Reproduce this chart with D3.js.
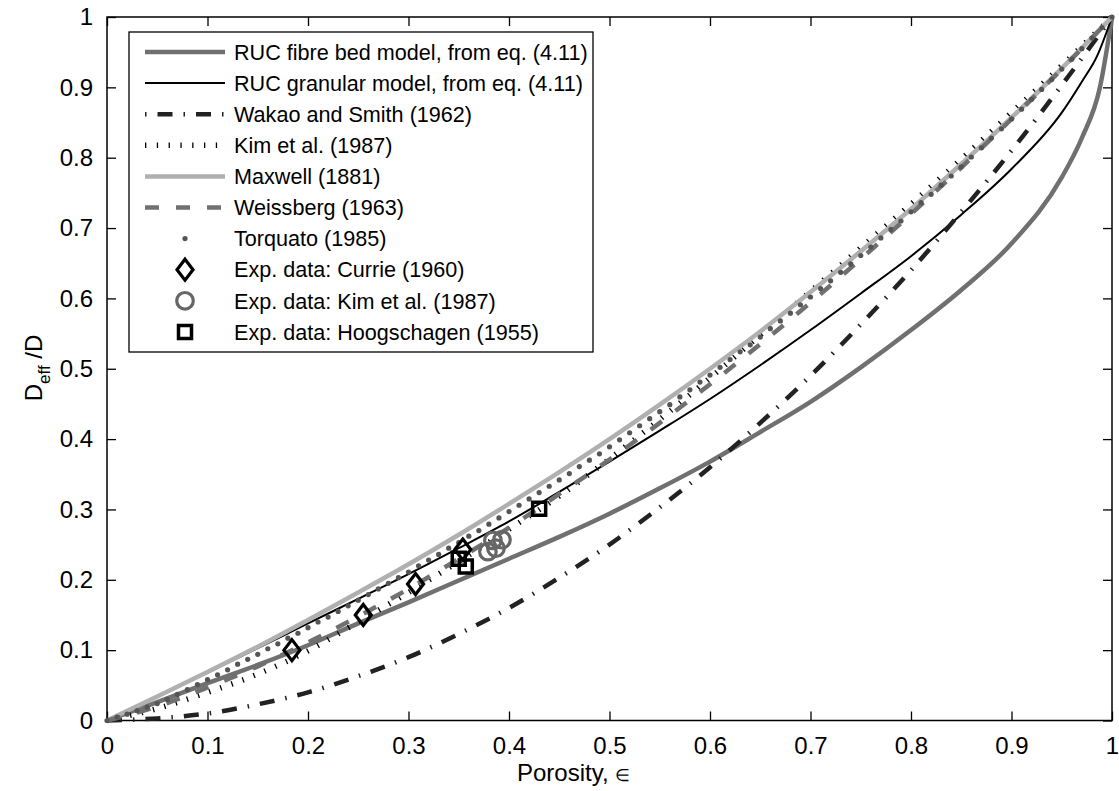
<!DOCTYPE html>
<html>
<head>
<meta charset="utf-8">
<script src="https://cdn.jsdelivr.net/npm/d3@7"></script>
<style>
  body { margin: 0; background: #fff; }
  svg { font-family: "Liberation Sans", Arial, Helvetica, sans-serif; }
</style>
</head>
<body>
<div id="chart"></div>
<script>
// porosity grid used by most model curves
const porosity = [0, 0.05, 0.1, 0.15, 0.2, 0.25, 0.3, 0.35, 0.4, 0.45, 0.5,
    0.55, 0.6, 0.65, 0.7, 0.75, 0.8, 0.85, 0.9, 0.95, 1];

const fibreX = [0, 0.05, 0.1, 0.15, 0.2, 0.25, 0.3, 0.35, 0.4, 0.45, 0.5,
    0.55, 0.6, 0.65, 0.7, 0.75, 0.8, 0.85, 0.9, 0.95, 0.97, 0.988, 1];
const fibreBed = [0, 0.026, 0.053, 0.079, 0.107, 0.138, 0.168, 0.199, 0.230, 0.261, 0.294,
    0.330, 0.368, 0.410, 0.453, 0.502, 0.555, 0.612, 0.678, 0.772, 0.828, 0.900, 1];

const granularX = [0, 0.05, 0.1, 0.15, 0.2, 0.25, 0.3, 0.35, 0.4, 0.45, 0.5,
    0.55, 0.6, 0.65, 0.7, 0.75, 0.8, 0.85, 0.9, 0.95, 0.97, 0.985, 1];
const granular = [0, 0.034, 0.068, 0.103, 0.138, 0.173, 0.208, 0.245, 0.283, 0.325, 0.368,
    0.412, 0.457, 0.505, 0.555, 0.607, 0.660, 0.719, 0.784, 0.864, 0.908, 0.944, 1];

const wakaoSmith = [0, 0.003, 0.010, 0.023, 0.040, 0.063, 0.090, 0.123, 0.160, 0.203, 0.250,
    0.303, 0.360, 0.423, 0.490, 0.563, 0.640, 0.723, 0.810, 0.903, 1];

const kimModel = [0, 0.017, 0.040, 0.066, 0.099, 0.140, 0.182, 0.226, 0.272, 0.319, 0.372,
    0.428, 0.487, 0.548, 0.610, 0.672, 0.734, 0.798, 0.864, 0.931, 1];

const maxwell = [0, 0.034, 0.069, 0.105, 0.143, 0.182, 0.222, 0.264, 0.308, 0.353, 0.400,
    0.449, 0.500, 0.553, 0.609, 0.667, 0.727, 0.791, 0.857, 0.927, 1];

const weissberg = [0, 0.020, 0.047, 0.077, 0.111, 0.148, 0.187, 0.230, 0.274, 0.322, 0.371,
    0.423, 0.478, 0.535, 0.594, 0.656, 0.720, 0.786, 0.855, 0.926, 1];

const torquatoX = [0, 0.01, 0.02, 0.03, 0.04, 0.05, 0.06, 0.07, 0.08, 0.09,
    0.1, 0.11, 0.12, 0.13, 0.14, 0.15, 0.16, 0.17, 0.18, 0.19,
    0.2, 0.21, 0.22, 0.23, 0.24, 0.25, 0.26, 0.27, 0.28, 0.29,
    0.3, 0.31, 0.32, 0.33, 0.34, 0.35, 0.36, 0.37, 0.38, 0.39,
    0.4, 0.41, 0.42, 0.43, 0.44, 0.45, 0.46, 0.47, 0.48, 0.49,
    0.5, 0.51, 0.52, 0.53, 0.54, 0.55, 0.56, 0.57, 0.58, 0.59,
    0.6, 0.61, 0.62, 0.63, 0.64, 0.65, 0.66, 0.67, 0.68, 0.69,
    0.7, 0.71, 0.72, 0.73, 0.74, 0.75, 0.76, 0.77, 0.78, 0.79,
    0.8, 0.81, 0.82, 0.83, 0.84, 0.85, 0.86, 0.87, 0.88, 0.89,
    0.9, 0.91, 0.92, 0.93, 0.94, 0.95, 0.96, 0.97, 0.98, 0.99, 1];
const torquato = [0, 0.005, 0.009, 0.014, 0.019, 0.024, 0.030, 0.037, 0.044, 0.051,
    0.058, 0.065, 0.072, 0.080, 0.087, 0.094, 0.102, 0.109, 0.117, 0.124,
    0.132, 0.140, 0.147, 0.155, 0.163, 0.171, 0.179, 0.187, 0.195, 0.203,
    0.211, 0.220, 0.228, 0.236, 0.245, 0.253, 0.262, 0.270, 0.279, 0.288,
    0.297, 0.306, 0.315, 0.324, 0.333, 0.342, 0.351, 0.361, 0.370, 0.379,
    0.389, 0.399, 0.409, 0.419, 0.429, 0.439, 0.449, 0.460, 0.470, 0.481,
    0.491, 0.502, 0.513, 0.524, 0.534, 0.545, 0.557, 0.568, 0.579, 0.591,
    0.602, 0.614, 0.625, 0.637, 0.649, 0.661, 0.673, 0.686, 0.698, 0.710,
    0.723, 0.736, 0.748, 0.761, 0.774, 0.787, 0.801, 0.814, 0.828, 0.841,
    0.855, 0.869, 0.883, 0.897, 0.911, 0.926, 0.940, 0.955, 0.970, 0.985, 1];

// experimental points [porosity, Deff/D]
const currie = [[0.184, 0.100], [0.255, 0.150], [0.307, 0.194], [0.354, 0.243]];
const kimExp = [[0.379, 0.240], [0.387, 0.245], [0.384, 0.256], [0.393, 0.257]];
const hoogschagen = [[0.350, 0.230], [0.357, 0.219], [0.430, 0.301]];

const tickValues = [0, 0.1, 0.2, 0.3, 0.4, 0.5, 0.6, 0.7, 0.8, 0.9, 1];

const legendLabels = [
    'RUC fibre bed model, from eq. (4.11)',
    'RUC granular model, from eq. (4.11)',
    'Wakao and Smith (1962)',
    'Kim et al. (1987)',
    'Maxwell (1881)',
    'Weissberg (1963)',
    'Torquato (1985)',
    'Exp. data: Currie (1960)',
    'Exp. data: Kim et al. (1987)',
    'Exp. data: Hoogschagen (1955)'
];

const svgWidth = 1119;
const svgHeight = 791;
const margin = { top: 17, right: 7, bottom: 70.5, left: 107 };
const width = svgWidth - margin.left - margin.right;
const height = svgHeight - margin.top - margin.bottom;

const svg = d3.select('#chart')
    .append('svg')
    .attr('width', svgWidth)
    .attr('height', svgHeight);

const bounds = svg.append('g')
    .attr('transform', `translate(${margin.left}, ${margin.top})`);

const xScale = d3.scaleLinear().domain([0, 1]).range([0, width]);
const yScale = d3.scaleLinear().domain([0, 1]).range([height, 0]);

const fmt = d => d3.format('~g')(d);

// axes, MATLAB style: inward ticks on all four sides
const styleAxis = g => {
    g.select('.domain').remove();
    g.selectAll('.tick line').attr('stroke', '#000').attr('stroke-width', 1.3);
    g.selectAll('.tick text').attr('fill', '#000').style('font-size', '24px');
};

bounds.append('g')
    .attr('transform', `translate(0, ${height})`)
    .call(d3.axisBottom(xScale).tickValues(tickValues).tickFormat(fmt)
        .tickSizeInner(-9).tickSizeOuter(0).tickPadding(16))
    .call(styleAxis);

bounds.append('g')
    .call(d3.axisTop(xScale).tickValues(tickValues).tickFormat('')
        .tickSizeInner(-9).tickSizeOuter(0))
    .call(styleAxis);

bounds.append('g')
    .call(d3.axisLeft(yScale).tickValues(tickValues).tickFormat(fmt)
        .tickSizeInner(-9).tickSizeOuter(0).tickPadding(14))
    .call(styleAxis);

bounds.append('g')
    .attr('transform', `translate(${width}, 0)`)
    .call(d3.axisRight(yScale).tickValues(tickValues).tickFormat('')
        .tickSizeInner(-9).tickSizeOuter(0))
    .call(styleAxis);

bounds.append('rect')
    .attr('width', width)
    .attr('height', height)
    .attr('fill', 'none')
    .attr('stroke', '#000')
    .attr('stroke-width', 1.5);

// axis titles
svg.append('text')
    .attr('x', 517)
    .attr('y', 781)
    .style('font-size', '24px')
    .text('Porosity,')
    .append('tspan')
    .attr('dx', 6)
    .style('font-size', '17px')
    .text('∈');

const yTitle = svg.append('text')
    .attr('transform', 'translate(42, 368) rotate(-90)')
    .attr('text-anchor', 'middle')
    .style('font-size', '24px');
yTitle.append('tspan').text('D');
yTitle.append('tspan').attr('dy', 8).style('font-size', '17px').text('eff');
yTitle.append('tspan').attr('dy', -8).text(' /D');

// series styles
const lineSeries = [
    { name: legendLabels[0], xs: fibreX, ys: fibreBed, stroke: '#707070', width: 4.5, dash: null },
    { name: legendLabels[1], xs: granularX, ys: granular, stroke: '#000', width: 2, dash: null },
    { name: legendLabels[2], xs: porosity, ys: wakaoSmith, stroke: '#222', width: 4.5, dash: '15 11 1.5 11' },
    { name: legendLabels[3], xs: porosity, ys: kimModel, stroke: '#000', width: 5.5, dash: '1.3 10.5' },
    { name: legendLabels[4], xs: porosity, ys: maxwell, stroke: '#b0b0b0', width: 4.5, dash: null },
    { name: legendLabels[5], xs: porosity, ys: weissberg, stroke: '#707070', width: 4.5, dash: '14 17' }
];

const lineGenerator = d3.line()
    .x(d => xScale(d[0]))
    .y(d => yScale(d[1]))
    .curve(d3.curveMonotoneX);

bounds.selectAll('.line-series')
    .data(lineSeries)
    .enter()
    .append('path')
    .attr('class', 'line-series')
    .attr('d', d => lineGenerator(d.xs.map((x, i) => [x, d.ys[i]])))
    .attr('fill', 'none')
    .attr('stroke', d => d.stroke)
    .attr('stroke-width', d => d.width)
    .attr('stroke-dasharray', d => d.dash);

bounds.selectAll('.torquato')
    .data(torquatoX.map((x, i) => [x, torquato[i]]))
    .enter()
    .append('circle')
    .attr('class', 'torquato')
    .attr('cx', d => xScale(d[0]))
    .attr('cy', d => yScale(d[1]))
    .attr('r', 2.6)
    .attr('fill', '#555');

// marker shapes
const diamondPath = 'M0,-10.5L8,0L0,10.5L-8,0Z';
const squarePath = 'M-6.5,-6.5H6.5V6.5H-6.5Z';

const drawMarkers = (data, cls, draw) => {
    bounds.selectAll(`.${cls}`)
        .data(data)
        .enter()
        .append('g')
        .attr('class', cls)
        .attr('transform', d => `translate(${xScale(d[0])}, ${yScale(d[1])})`)
        .call(draw);
};

const diamondMark = g => g.append('path').attr('d', diamondPath)
    .attr('fill', 'none').attr('stroke', '#000').attr('stroke-width', 3.2);
const circleMark = g => g.append('circle').attr('r', 8.3)
    .attr('fill', 'none').attr('stroke', '#666').attr('stroke-width', 3.2);
const squareMark = g => g.append('path').attr('d', squarePath)
    .attr('fill', 'none').attr('stroke', '#000').attr('stroke-width', 3.5);

drawMarkers(currie, 'currie', diamondMark);
drawMarkers(kimExp, 'kim-exp', circleMark);
drawMarkers(hoogschagen, 'hoog', squareMark);

// legend
const legend = svg.append('g');
legend.append('rect')
    .attr('x', 129)
    .attr('y', 32)
    .attr('width', 464)
    .attr('height', 320)
    .attr('fill', '#fff')
    .attr('stroke', '#000')
    .attr('stroke-width', 1.3);

const rowY = i => 52 + i * 31.1;

legend.selectAll('.leg-line')
    .data(lineSeries)
    .enter()
    .append('line')
    .attr('x1', 145)
    .attr('x2', 225)
    .attr('y1', (d, i) => rowY(i))
    .attr('y2', (d, i) => rowY(i))
    .attr('stroke', d => d.stroke)
    .attr('stroke-width', d => d.width)
    .attr('stroke-dasharray', d => d.dash === '15 11 1.5 11' ? '1.5 11 15 11' : d.dash);

legend.append('circle')
    .attr('cx', 185).attr('cy', rowY(6)).attr('r', 2.6).attr('fill', '#555');

[diamondMark, circleMark, squareMark].forEach((draw, k) => {
    legend.append('g')
        .attr('transform', `translate(185, ${rowY(7 + k)})`)
        .call(draw);
});

legend.selectAll('.leg-text')
    .data(legendLabels)
    .enter()
    .append('text')
    .attr('x', 234)
    .attr('y', (d, i) => rowY(i))
    .attr('dy', '0.36em')
    .style('font-size', '21.6px')
    .text(d => d);
</script>
</body>
</html>
